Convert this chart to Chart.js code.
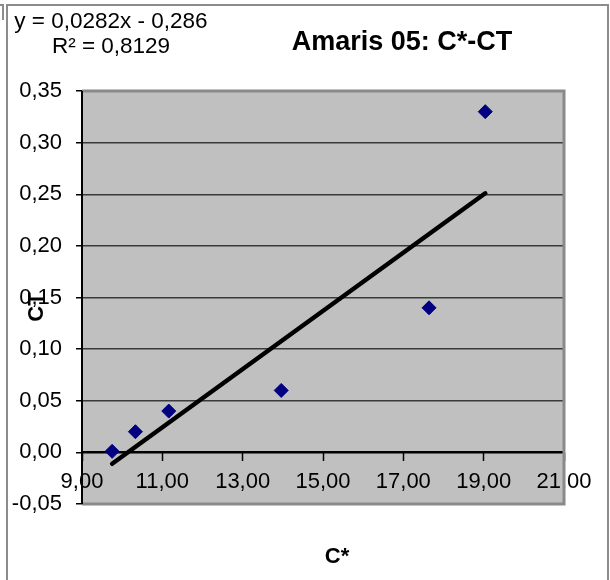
<!DOCTYPE html>
<html>
<head>
<meta charset="utf-8">
<script src="https://cdn.jsdelivr.net/npm/chart.js@4.4.1/dist/chart.umd.min.js"></script>
<style>
  body { margin: 0; background: #fff; }
  canvas { display: block; }
</style>
</head>
<body>
<canvas id="scatterChart" width="610" height="580"></canvas>
<script>
// values
const cStar = [9.75, 10.33, 11.16, 13.96, 17.64, 19.04];
const ctValues = [0.001, 0.02, 0.04, 0.06, 0.14, 0.33];
const xTicks = [9, 11, 13, 15, 17, 19, 21];
const yTicks = [-0.05, 0, 0.05, 0.10, 0.15, 0.20, 0.25, 0.30, 0.35];

// trendline as printed on the chart
const trendSlope = 0.0282;
const trendIntercept = -0.286;
const trendLabel = ['y = 0,0282x - 0,286', 'R² = 0,8129'];
const chartTitle = 'Amaris 05: C*-CT';

const points = cStar.map((x, i) => ({ x: x, y: ctValues[i] }));
const xMin = Math.min(...cStar);
const xMax = Math.max(...cStar);
const trendPoints = [
    { x: xMin, y: trendSlope * xMin + trendIntercept },
    { x: xMax, y: trendSlope * xMax + trendIntercept }
];

const fmt = v => Number(v).toFixed(2).replace('.', ',');
const font = 'Liberation Sans, Arial, sans-serif';

// gray plot background, plot border, outer frame and the free text
const decor = {
    id: 'decor',
    beforeDraw(chart) {
        const { ctx, chartArea: a } = chart;
        ctx.save();
        ctx.fillStyle = '#C0C0C0';
        ctx.fillRect(a.left, a.top, a.right - a.left, a.bottom - a.top);
        ctx.restore();
    },
    beforeDatasetsDraw(chart) {
        const { ctx, chartArea: a } = chart;
        ctx.save();
        ctx.strokeStyle = '#8a8a8a';
        ctx.lineWidth = 3;
        ctx.beginPath();
        ctx.moveTo(a.left, a.top);
        ctx.lineTo(a.right, a.top);
        ctx.lineTo(a.right, a.bottom);
        ctx.lineTo(a.left, a.bottom);
        ctx.stroke();
        // y axis line on top again
        ctx.strokeStyle = '#000';
        ctx.lineWidth = 2;
        ctx.beginPath();
        ctx.moveTo(a.left, a.top);
        ctx.lineTo(a.left, a.bottom);
        ctx.stroke();
        ctx.restore();
    },
    afterDraw(chart) {
        const { ctx } = chart;
        ctx.save();
        // outer frame
        ctx.strokeStyle = '#8c8c8c';
        ctx.lineWidth = 2;
        ctx.beginPath();
        ctx.moveTo(7, 580);
        ctx.lineTo(7, 5);
        ctx.lineTo(608, 5);
        ctx.lineTo(608, 580);
        ctx.stroke();
        ctx.beginPath();
        ctx.moveTo(0, 5);
        ctx.lineTo(3, 5);
        ctx.lineTo(3, 20);
        ctx.stroke();

        ctx.fillStyle = '#000';
        ctx.textBaseline = 'middle';
        ctx.textAlign = 'center';
        ctx.font = '22.5px ' + font;
        ctx.fillText(trendLabel[0], 111, 22);
        ctx.fillText(trendLabel[1], 111, 47);

        ctx.font = 'bold 27px ' + font;
        ctx.fillText(chartTitle, 402, 43);

        ctx.font = 'bold 22px ' + font;
        ctx.fillText('C*', 337, 557);

        ctx.translate(37, 307);
        ctx.rotate(-Math.PI / 2);
        ctx.fillText('CT', 0, 0);
        ctx.restore();
    }
};

new Chart(document.getElementById('scatterChart'), {
    type: 'scatter',
    data: {
        datasets: [{
            label: 'Trend',
            type: 'line',
            data: trendPoints,
            borderColor: '#000',
            borderWidth: 4.5,
            borderCapStyle: 'round',
            pointRadius: 0,
            fill: false,
            order: 0
        }, {
            label: 'CT',
            data: points,
            pointStyle: 'rectRot',
            pointRadius: 7,
            pointHoverRadius: 7,
            backgroundColor: '#000080',
            borderColor: '#000080',
            borderWidth: 1,
            order: 1
        }]
    },
    options: {
        responsive: false,
        animation: false,
        layout: {
            padding: { top: 91, right: 46, bottom: 76, left: 0 }
        },
        plugins: {
            legend: { display: false },
            tooltip: { enabled: false }
        },
        scales: {
            x: {
                type: 'linear',
                position: { y: 0 },
                min: xTicks[0],
                max: xTicks[xTicks.length - 1],
                afterBuildTicks: scale => { scale.ticks = xTicks.map(v => ({ value: v })); },
                ticks: {
                    callback: v => fmt(v),
                    color: '#000',
                    font: { family: font, size: 22 },
                    padding: 8,
                    maxRotation: 0,
                    autoSkip: false
                },
                grid: {
                    drawOnChartArea: false,
                    drawTicks: true,
                    tickLength: 8,
                    tickColor: '#000',
                    tickWidth: 1.5
                },
                border: { display: true, color: '#000', width: 2 }
            },
            y: {
                min: yTicks[0],
                max: yTicks[yTicks.length - 1],
                afterBuildTicks: scale => { scale.ticks = yTicks.map(v => ({ value: v })); },
                afterFit: scale => { scale.width = 82; },
                ticks: {
                    callback: v => fmt(v),
                    color: '#000',
                    font: { family: font, size: 22 },
                    padding: 14,
                    autoSkip: false
                },
                grid: {
                    color: ctx => (Math.abs(ctx.tick.value) < 1e-9 ? '#000' : '#3a3a3a'),
                    lineWidth: 1.5,
                    tickLength: 6,
                    tickColor: '#000',
                    tickWidth: 1.5
                },
                border: { display: true, color: '#000', width: 2 }
            }
        }
    },
    plugins: [decor]
});
</script>
</body>
</html>
